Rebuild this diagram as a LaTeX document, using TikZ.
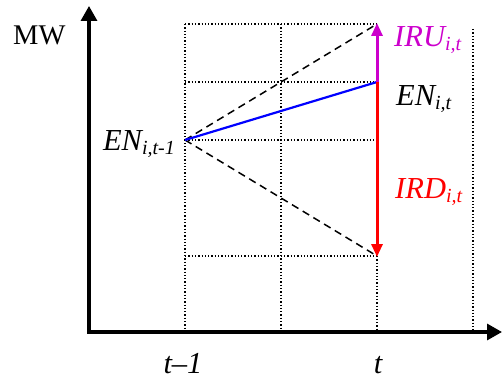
\documentclass[tikz,border=0pt]{standalone}
\usepackage{fontspec}
\setmainfont{Liberation Serif}
\usetikzlibrary{arrows.meta}
\newcommand{\mysub}[1]{\raisebox{-4pt}{\fontsize{20}{20}\selectfont\itshape #1}}
\tikzset{
  gridline/.style={line width=1.3pt, dash pattern=on 1.3pt off 2pt},
  axisline/.style={line width=3.3pt, -{Triangle[length=15pt,width=16pt]}},
  rangeline/.style={black, line width=1.5pt, dash pattern=on 7.5pt off 5pt},
  enline/.style={blue, line width=2.2pt},
  rampu/.style={draw=magcol, line width=3pt, -{Triangle[length=13pt,width=11pt]}, shorten >=-1pt},
  rampd/.style={draw=red, line width=3pt, -{Triangle[length=13pt,width=11pt]}, shorten >=-1pt},
  lbl/.style={inner sep=0pt, font=\fontsize{30.5}{30.5}\selectfont\itshape},
}
\definecolor{magcol}{RGB}{204,0,204}
\begin{document}
\begin{tikzpicture}[x=1pt,y=-1pt]
\useasboundingbox (0,0) rectangle (502,379);
% coordinates
\coordinate (O) at (89,332);
\coordinate (Ytop) at (89,6);
\coordinate (Xend) at (502,332);
\coordinate (A) at (185,140);
\coordinate (B) at (377,82);
\coordinate (U) at (377,24);
\coordinate (D) at (377,256);
% grid
\draw[gridline] (185,24) -- (377,24);
\draw[gridline] (185,82) -- (377,82);
\draw[gridline] (185,140) -- (377,140);
\draw[gridline] (185,256) -- (377,256);
\draw[gridline] (185,24) -- (185,332);
\draw[gridline] (281,24) -- (281,332);
\draw[gridline] (377,256) -- (377,332);
\draw[gridline] (473,29) -- (473,332);
% axes
\draw[axisline] ([xshift=-1.6pt]O) -- (Xend);
\draw[axisline] ([yshift=1.6pt]O) -- (Ytop);
% lines
\draw[rangeline] (A) -- (U);
\draw[rangeline] (A) -- (D);
\draw[enline] (A) -- (B);
\draw[rampu] (B) -- (U);
\draw[rampd] (B) -- (D);
% labels
\node[inner sep=0pt, font=\fontsize{28.5}{28.5}\selectfont, anchor=base west] (mw) at (13,45) {MW};
\node[lbl, anchor=base east] (en1) at (175,151) {EN\mysub{i,t-1}};
\node[lbl, anchor=base west, text=magcol] (iru) at (394,47) {IRU\mysub{i,t}};
\node[lbl, anchor=base west] (en2) at (396,106) {EN\mysub{i,t}};
\node[lbl, anchor=base west, text=red] (ird) at (395,198) {IRD\mysub{i,t}};
\node[lbl, anchor=base] (tm1) at (183,373) {t–1};
\node[lbl, anchor=base] (tt) at (378,373) {t};
\end{tikzpicture}
\end{document}
